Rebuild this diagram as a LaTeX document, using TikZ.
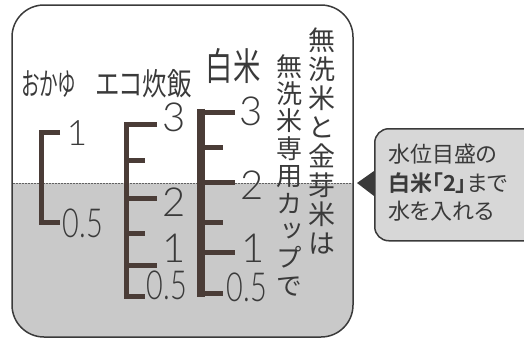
\documentclass[tikz,border=0pt]{standalone}
\usepackage{fontspec}
\usepackage{xcolor}
\usetikzlibrary{positioning}
\setmainfont{Noto Sans CJK JP}
\newfontfamily\jpfont[RawFeature=+palt, BoldFont={Noto Sans CJK JP Bold}]{Noto Sans CJK JP}
\newfontfamily\jpvert[RawFeature=+vert]{Noto Sans CJK JP}
\IfFontExistsTF{Lato Light}
  {\newfontfamily\digitfont{Lato Light}}
  {\newfontfamily\digitfont{Noto Sans CJK JP}}
\newcommand{\fs}[2]{\fontsize{#1pt}{#2pt}\selectfont}
\newcommand{\narrow}[2][0.72]{\scalebox{#1}[1]{#2}}

\definecolor{gaugebrown}{RGB}{74,60,55}
\definecolor{inkgray}{RGB}{58,58,58}
\definecolor{watergray}{RGB}{201,201,201}
\definecolor{notegray}{RGB}{215,215,215}

\tikzset{
  frame/.style={draw=inkgray, line width=1.5pt},
  waterline/.style={draw=inkgray!80, line width=0.8pt, dash pattern=on 1.6pt off 1.4pt},
  gauge/.style={draw=gaugebrown, line width=5pt, line join=miter},
  mark3/.style={inner sep=0pt, text=inkgray, font=\digitfont\fs{40}{40}},
  head/.style={inner sep=0pt, text=inkgray, font=\jpfont\fs{31}{31}},
  vcol/.style={inner sep=0pt, text=inkgray, align=center, anchor=north},
  notebox/.style={fill=notegray, draw=inkgray, line width=1.5pt, rounded corners=14pt,
    minimum width=190pt, minimum height=112pt, anchor=north west, inner sep=0pt},
}

\begin{document}
\begin{tikzpicture}[x=1pt, y=-1pt]
\useasboundingbox (0,0) rectangle (524,340);

% water below the line
\begin{scope}
\clip[rounded corners=32pt] (12,5) rectangle (353,337);
\fill[watergray] (0,183) rectangle (360,340);
\end{scope}
\draw[waterline] (13,183) -- (352,183);
\draw[frame, rounded corners=32pt] (12,5) rectangle (353,337);

% headings
\node[head] (okayu) at (49,84) {\narrow[0.6]{おかゆ}};
\node[head] (eco) at (144,84) {\narrow[0.79]{エコ炊飯}};
\node[head, font=\jpfont\fs{38}{38}] (hakumai) at (233,66) {\narrow[0.72]{白米}};

% gauge for okayu
\draw[gauge] (60,132) -- (41,132) -- (41,222) -- (60,222);
\node[mark3, font=\digitfont\fs{35}{35}] (ok1) at (77,133) {1};
\node[mark3] (ok05) at (83,223) {\narrow{0.5}};

% gauge for eco
\draw[gauge] (157,124) -- (126,124) -- (126,296) -- (145,296);
\draw[gauge] (126,160) -- (145,160);
\draw[gauge] (126,198) -- (157,198);
\draw[gauge] (126,233) -- (145,233);
\draw[gauge] (126,265) -- (157,265);
\node[mark3] (eco3) at (174,117) {3};
\node[mark3] (eco2) at (174,202) {2};
\node[mark3] (eco1) at (174,248) {1};
\node[mark3] (eco05) at (167,285) {\narrow{0.5}};

% gauge for hakumai
\draw[gauge, line width=7.5pt] (201,108.5) -- (201,296.5);
\draw[gauge] (198,112) -- (235,112);
\draw[gauge] (198,147) -- (223,147);
\draw[gauge] (198,182) -- (235,182);
\draw[gauge] (198,222) -- (223,222);
\draw[gauge] (198,252) -- (235,252);
\draw[gauge] (198,293) -- (223,293);
\node[mark3] (hk3) at (251,111) {3};
\node[mark3] (hk2) at (252,185) {2};
\node[mark3] (hk1) at (253,248) {1};
\node[mark3] (hk05) at (247,287) {\narrow{0.5}};

% vertical notes
\node[vcol, font=\jpvert\fs{27}{29}] (musenmai) at (322,28) {無\\洗\\米\\と\\金\\芽\\米\\は};
\node[vcol, font=\jpvert\fs{26}{27.4}] (cup) at (289,54) {無\\洗\\米\\専\\用\\カ\\ッ\\プ\\で};

% callout
\node[notebox] (note) at (374,128) {};
\coordinate (tip) at (357,183);
\fill[inkgray] (374,171) -- (tip) -- (374,196) -- cycle;
\node[inner sep=0pt, anchor=north west, align=left, text=inkgray,
  font=\jpfont\fs{22}{28.5}] (notetext) at (388,144)
  {水位目盛の\\\textbf{白米「2」}まで\\水を入れる};

\end{tikzpicture}
\end{document}
